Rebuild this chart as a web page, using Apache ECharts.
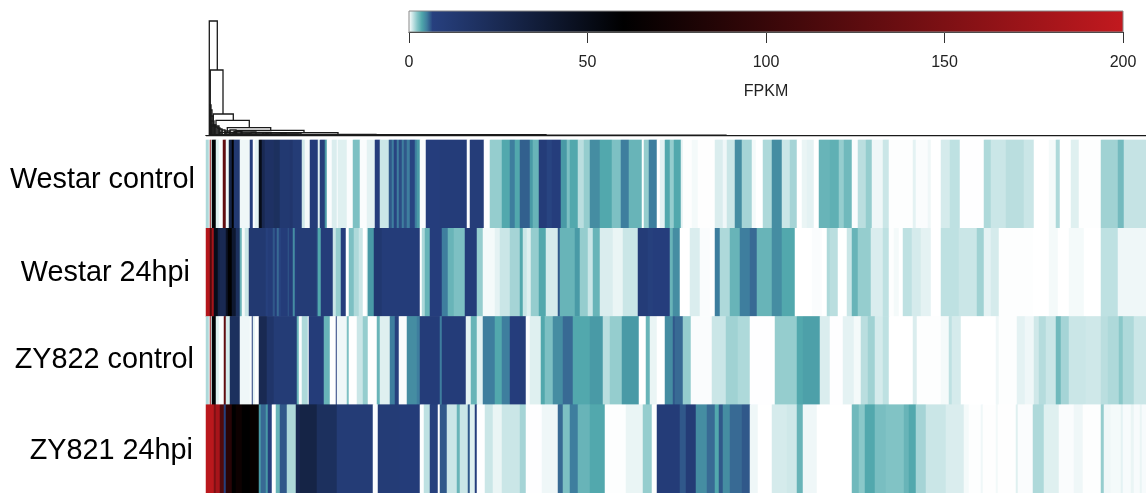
<!DOCTYPE html>
<html><head><meta charset="utf-8">
<script src="https://cdn.jsdelivr.net/npm/echarts@6/dist/echarts.min.js"></script>
<style>html,body{margin:0;padding:0;background:#fff;overflow:hidden}#c{width:1146px;height:493px}</style>
</head><body><div id="c"></div>
<script>
// samples, top to bottom
const sampleLabels = ['Westar control','Westar 24hpi','ZY822 control','ZY821 24hpi'];
// FPKM per gene column, written as [last column of the stretch, FPKM]
const westarControl = [[3,1.5],[4,.2],[5,170],[6,.3],[10,58],[13,.6],[17,.1],[20,130],[23,.3],[26,30],[28,60],[34,12],[44,.3],[47,8],[49,.1],[53,.5],[56,50],[59,25],[68,18],[74,20],[84,12],[87,14],[96,10],[99,.9],[104,.2],[112,9],[114,.6],[119,8.5],[121,4],[126,.1],[131,.7],[132,.1],[141,.6],[147,.1],[154,2.5],[161,.1],[169,.5],[174,8],[183,1],[186,6],[188,5],[191,6.5],[193,5],[196,6.3],[198,5],[201,6],[204,5],[209,6.5],[211,5],[214,4],[220,.1],[234,8],[261,9],[264,.1],[278,8.5],[284,.05],[296,2],[304,3.5],[309,5],[314,3.5],
[324,5.8],[327,4],[333,3],[341,9],[346,6.5],[355,8],[361,4],[364,2.5],[372,3.5],[378,1.3],[384,2],[394,4.5],[406,3.5],[415,2.5],[423,5],[436,3],[438,0],[443,2],[451,5],[454,0],[459,.5],[464,3.5],[468,2],[475,3.5],[477,.5],[486,.05],[492,.2],[509,.03],[517,.7],[521,.3],[529,1],[536,4.5],[546,1.7],[550,.2],[557,0],[566,1.5],[576,4.5],[584,1],[591,1.7],[596,0],[601,.4],[608,.5],[613,0],[624,3],
[633,3.2],[638,2],[646,2.8],[652,.1],[660,1.3],[666,2],[677,.3],[683,1],[707,.05],[710,.5],[722,.1],[725,.3],[735,0],[744,.8],[754,1.2],[778,.02],[785,1.5],[800,1],[818,1.3],[828,1],[843,0],[850,.2],[854,1.5],[865,0],[873,.6],[895,.05],[912,1.8],[918,2.7],[940,1.1]];
const westar24hpi = [[4,190],[6,120],[8,180],[12,50],[14,30],[20,25],[22,45],[26,60],[30,40],[34,20],[36,3],[39,.2],[43,1],[60,12],[62,7],[67,9.5],[69,6],[71,9],[73,5.5],[75,6.5],[82,9],[83,6],[87,9],[89,4.5],[91,8],[111,10],[112,6],[115,3.5],[127,9],[130,1],[135,2],[140,8],[143,0],[148,2.5],[153,1.5],[157,1],[161,0],[162,1],[168,4],[176,13],[214,9],[216,0],[219,1.5],[224,3],[236,8],[242,5],[248,3],[259,2.5],[271,9],[277,2],[289,.2],[294,.5],[304,1],[314,1.7],
[317,3.5],[321,1],[325,.6],[333,2],[340,3.5],[352,.8],[354,6],[369,3],[374,4],[382,2],[387,1],[394,3],[407,.7],[417,.4],[432,1],[442,9.5],[447,7],[464,8],[467,3],[474,4.5],[484,0],[494,.7],[504,.1],[509,0],[514,5],[524,1.5],[534,3],[544,5],[551,5.5],[566,3],[576,4.5],[589,3.5],[606,0],[616,.1],[621,0],[624,1.5],
[632,1.3],[641,0],[646,1],[652,3],[665,2],[677,.7],[683,1.2],[688,.05],[693,.2],[697,0],[706,1.2],[715,.8],[725,.5],[735,0],[753,1.2],[771,1],[778,1.8],[785,.5],[793,.8],[827,.05],[843,0],[852,.2],[863,0],[878,.2],[895,0],[912,1.2],[940,.3]];
const zy822Control = [[3,1.5],[4,.2],[5,170],[6,.3],[10,58],[13,.6],[18,.1],[20,130],[24,.8],[34,20],[44,.3],[46,.1],[47,8],[49,.5],[53,.05],[61,25],[68,15],[91,10],[93,3],[96,.1],[102,1.5],[103,.1],[118,9],[124,3],[130,.05],[131,8],[141,.3],[143,2.5],[151,.03],[157,1],[162,2],[171,.05],[174,3],[184,.6],[189,5],[193,7],[201,.1],[211,4.5],[214,5],[234,9],[236,5],[260,9],[265,.5],[271,3],[277,.5],[289,5],[296,3.5],[304,5],[314,8],
[320,9],[324,.1],[335,.6],[339,3.5],[347,2.5],[357,4.5],[367,5.5],[384,3.5],[397,4],[404,1.3],[416,2],[433,4],[440,0],[444,3],[451,.4],[459,0],[467,4.5],[469,6],[477,5.5],[485,2],[506,.1],[520,1],[532,1.8],[544,1.5],[567,.02],[569,0],[591,2],[597,3.5],[614,3.8],[624,.7],
[637,.02],[648,.5],[655,.2],[662,1.3],[669,1.8],[677,.8],[683,1.2],[707,0],[711,.7],[735,.05],[743,.2],[746,1.2],[755,.8],[790,0],[793,.3],[811,.05],[819,.5],[828,.3],[833,.9],[840,1.4],[850,1],[855,2.8],[863,1.7],[880,1],[895,.9],[902,1.3],[913,1.5],[917,2.2],[928,1.5],[940,1]];
const zy821_24hpi = [[8,195],[10,150],[14,180],[18,120],[20,7],[26,90],[30,60],[36,70],[44,60],[53,65],[55,4],[60,5.5],[62,4],[66,7],[70,.05],[74,3],[81,6],[90,1.5],[94,25],[111,30],[131,20],[167,10],[172,.1],[194,10],[214,9],[218,.05],[224,1.2],[232,7],[234,.05],[241,6],[251,1],[254,3],[262,1],[264,6],[269,.6],[271,8],[279,.02],[287,1],[296,.4],[314,1],
[320,1.7],[336,.02],[352,.3],[357,5.5],[364,2.5],[372,5],[384,3],[399,3.5],[420,.05],[437,.4],[446,2],[451,.05],[474,9.5],[480,6],[490,10],[501,4.5],[509,5.5],[513,3.5],[517,6],[524,4.5],[536,5.5],[544,6],[552,.3],[566,0],[581,.8],[591,.9],[597,3],[611,.3],[624,0],
[646,0],[653,2.8],[659,2.2],[669,3.5],[680,2.6],[698,2.4],[703,3],[710,3.5],[720,1.7],[740,1],[758,.7],[763,.2],[775,.05],[777,.3],[790,.03],[792,.25],[810,.03],[812,.6],[827,.1],[838,1.5],[853,.6],[868,.1],[877,.3],[895,.05],[898,2],[905,.3],[915,.2],[917,.5],[925,.15],[928,.4],[934,.15],[936,.4],[940,.15]];
// colour key of the FPKM scale: [FPKM, colour]
const colorKey = [[0,'#ffffff'],[2.3,'#85c5c7'],[3.6,'#4fa6ab'],[5,'#3f7f9e'],[6.6,'#27407f'],[60,'#000000'],[200,'#c2191f']];
const keyTicks = [0,50,100,150,200];
const keyTitle = 'FPKM';
// dendrogram merges: [left x, right x, height, left leg end, right leg end]
const dendroMerges = [[3.3,11.3,115,0,66],[4.3,17,66,31,22],[7.3,27.3,22,11,15.7],[10,43.3,15.7,11,8.3],[21.3,64.7,8.3,3,5.7],[30.7,98,5.7,2,3.4],[57,132,3.4,1.5,1.5],
[4,5,31,0,0],[4.5,6,26,0,0],[4.5,7,20,0,0],[5,8,15,0,0],[5,9,11,0,0],[6,13,10,0,0],[8,10,11,0,0],[9,12,9,0,0],[11,14,8,0,0],[13,16,7,0,0],[16,19,6,0,0],[19,24,5,0,0],[24,30,6,0,0],[28,36,4.5,0,0],[35,50,4,0,0],[45,65,3.5,0,0],[60,80,3,0,0],[75,95,2.8,0,0],[14,30,3.5,0,0],[20,44,3,0,0],[26,62,2.2,0,0],[40,92,1.8,0,0],[70,170,1.6,0,0],[5,340,1.3,0,0],[5,520,.9,0,0],[0,940,.4,0,0]];

function hex(c){return [1,3,5].map(i=>parseInt(c.substr(i,2),16));}
function colorAt(v){
  for(let i=1;i<colorKey.length;i++){
    if(v<=colorKey[i][0]){
      const [a,ca]=colorKey[i-1],[b,cb]=colorKey[i],t=(v-a)/(b-a),A=hex(ca),B=hex(cb);
      return 'rgb('+A.map((x,k)=>Math.round(x+(B[k]-x)*t)).join(',')+')';
    }
  }
  return colorKey[colorKey.length-1][1];
}
const ramp=[];for(let i=0;i<=2000;i++)ramp.push(colorAt(i/10));
const rows=[westarControl,westar24hpi,zy822Control,zy821_24hpi];
const columns=[];for(let i=0;i<940;i++)columns.push(i);
const cells=[];
rows.forEach((runs,r)=>{let c=0;runs.forEach(([end,v])=>{for(;c<end;c++)cells.push([c,r,v]);});});

const labelY=[180,273,360,451], labelRight=[195,190,194,193];
const chart=echarts.init(document.getElementById('c'),null,{renderer:'canvas'});
chart.setOption({
  animation:false,backgroundColor:'#fff',
  textStyle:{fontFamily:'Liberation Sans'},
  grid:[
    {left:206,top:140,width:940,height:354},
    {left:409,top:11,width:714,height:21,show:true,borderColor:'#888',borderWidth:1,backgroundColor:'transparent',z:5},
    {left:206,top:0,width:940,height:136}
  ],
  xAxis:[
    {type:'category',gridIndex:0,data:columns,show:false},
    {type:'value',gridIndex:1,min:0,max:200,interval:50,position:'bottom',splitLine:{show:false},
     axisLine:{show:true,onZero:false,lineStyle:{color:'#111',width:1}},
     axisTick:{show:true,length:11,lineStyle:{color:'#333',width:1}},
     axisLabel:{margin:23,fontSize:16,color:'#222',fontFamily:'Liberation Sans',showMinLabel:true,showMaxLabel:true,hideOverlap:false,formatter:v=>keyTicks.includes(v)?String(v):''},
     name:keyTitle,nameLocation:'middle',nameGap:52,nameTextStyle:{fontSize:16,color:'#222',fontFamily:'Liberation Sans'}},
    {type:'value',gridIndex:2,min:0,max:940,show:false}
  ],
  yAxis:[
    {type:'category',gridIndex:0,data:sampleLabels,inverse:true,show:false},
    {type:'category',gridIndex:1,data:['key'],show:false},
    {type:'value',gridIndex:2,min:0,max:136,show:false}
  ],
  visualMap:{show:false,type:'continuous',min:0,max:200,seriesIndex:0,dimension:2,inRange:{color:ramp}},
  series:[
    {type:'heatmap',xAxisIndex:0,yAxisIndex:0,data:cells,progressive:0,itemStyle:{borderWidth:0},emphasis:{disabled:true}},
    {type:'bar',xAxisIndex:1,yAxisIndex:1,data:[200],barWidth:'100%',silent:true,
     itemStyle:{color:new echarts.graphic.LinearGradient(0,0,1,0,colorKey.map(([v,c])=>({offset:v/200,color:c})))}},
    {type:'custom',xAxisIndex:2,yAxisIndex:2,silent:true,clip:false,data:dendroMerges,
     renderItem:(p,api)=>{
       const xl=api.value(0),xr=api.value(1),h=api.value(2),hl=api.value(3),hr=api.value(4);
       return {type:'polyline',shape:{points:[api.coord([xl,hl]),api.coord([xl,h]),api.coord([xr,h]),api.coord([xr,hr])]},style:{stroke:'#1a1a1a',lineWidth:1.3,fill:null}};
     }}
  ],
  graphic:sampleLabels.map((t,i)=>({type:'text',x:labelRight[i],y:labelY[i],style:{text:t,align:'right',verticalAlign:'middle',fontSize:28.8,fontFamily:'Liberation Sans',fill:'#000'}}))
});
</script></body></html>
